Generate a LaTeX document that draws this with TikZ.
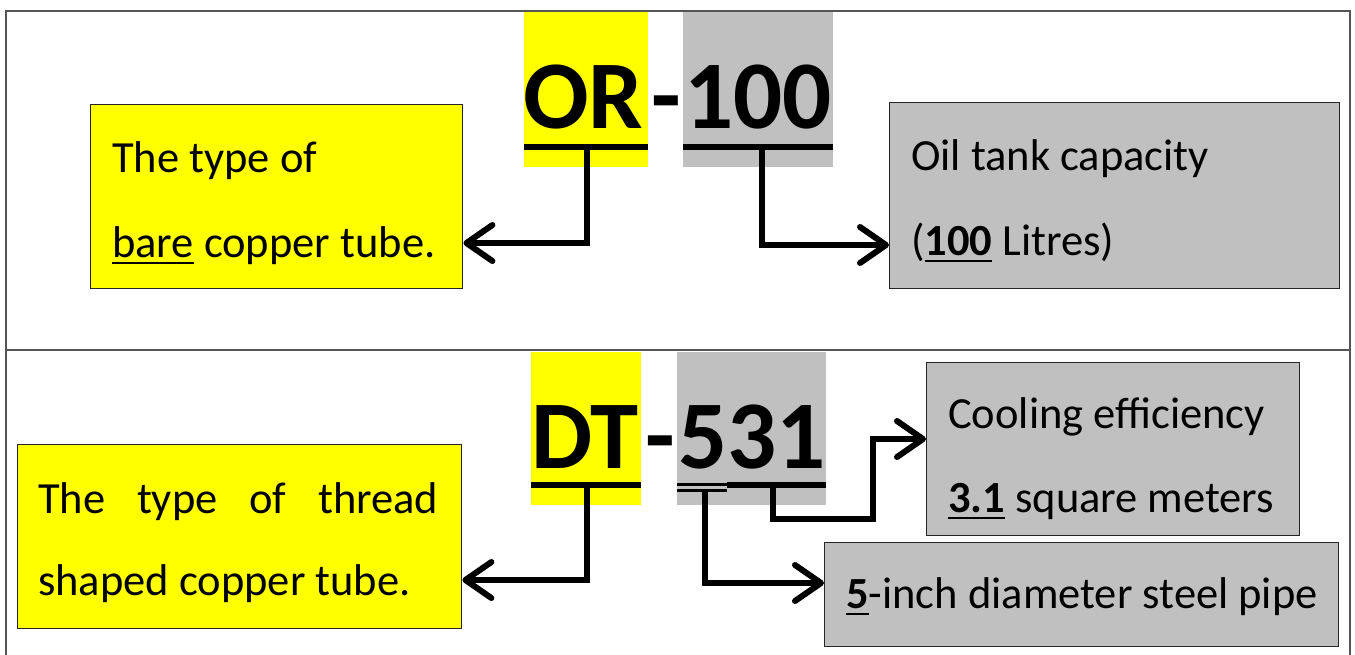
\documentclass[tikz,border=0pt]{standalone}
\usepackage{fontspec}
\setmainfont{Carlito}
\usetikzlibrary{arrows.meta}
\definecolor{hlyellow}{HTML}{FFFF00}
\definecolor{hlgray}{HTML}{C0C0C0}
\definecolor{framegray}{HTML}{555555}
\newcommand\myul[1]{\setbox0\hbox{#1}\rlap{\rule[-7pt]{\wd0}{2pt}}\box0\relax}
\tikzset{
  box/.style={draw=black!85, line width=1.4pt, inner sep=0pt, anchor=north west},
  hl/.style={inner sep=0pt, anchor=north west, draw=none},
  txt/.style={inner sep=0pt, anchor=base west, font=\fontsize{44.5}{50}\selectfont},
  big/.style={inner sep=0pt, anchor=base west, font=\fontsize{97}{100}\selectfont\bfseries},
  ulbar/.style={line width=6pt},
  ulthin/.style={line width=3pt},
  conn/.style={line width=6pt, line join=miter,
    -{Straight Barb[length=26pt,width=36pt,line cap=round,line join=round]}},
}
\begin{document}
\begin{tikzpicture}[x=1pt,y=-1pt]
\useasboundingbox (0,0) rectangle (1355,654);
% frame
\draw[framegray, line width=1.5pt] (6,670) -- (6,11) -- (1350,11) -- (1350,670);
\draw[framegray, line width=1.5pt] (6,350) -- (1350,350);

% ---------- top section ----------
\node[hl, fill=hlyellow, minimum width=124pt, minimum height=155pt] (hlOR) at (524,12) {};
\node[hl, fill=hlgray, minimum width=150pt, minimum height=155pt] (hl100) at (683,12) {};
\node[big] (tOR) at (523,128) {OR};
\node[big] (tdash1) at (651,128) {-};
\node[big] (t100) at (684,128) {100};
\draw[ulbar] (524,146.5) -- (648,146.5);
\draw[ulbar] (683,146.5) -- (833,146.5);
\coordinate (uOR) at (587,146.5);
\coordinate (u100) at (762,146.5);

\node[box, fill=hlyellow, minimum width=372pt, minimum height=184pt] (boxA) at (90,104) {};
\node[txt] (a1) at (112,172) {The type of};
\node[txt] (a2) at (112,257) {\myul{bare} copper tube.};

\node[box, fill=hlgray, minimum width=450pt, minimum height=186pt] (boxB) at (889,102) {};
\node[txt] (b1) at (911,170) {Oil tank capacity};
\node[txt] (b2) at (911,255) {(\myul{\bfseries 100} Litres)};

\draw[conn] (uOR) |- (boxA.east |- 0,243);
\draw[conn] (u100) |- (boxB.west |- 0,245);

% ---------- bottom section ----------
\node[hl, fill=hlyellow, minimum width=110pt, minimum height=153pt] (hlDT) at (531,352) {};
\node[hl, fill=hlgray, minimum width=149pt, minimum height=153pt] (hl531) at (677,352) {};
\node[big] (tDT) at (531,468) {DT};
\node[big] (tdash2) at (645,468) {-};
\node[big] (t531) at (678,468) {531};
\draw[ulbar] (531,485) -- (641,485);
\draw[ulthin] (677,484.5) -- (727,484.5);
\draw[ulthin] (677,490.5) -- (727,490.5);
\draw[ulbar] (727,485) -- (826,485);
\coordinate (uDT) at (587,485);
\coordinate (u5) at (705,490);
\coordinate (u31) at (773,485);
\coordinate (k31) at (873,519);

\node[box, fill=hlyellow, minimum width=444pt, minimum height=184pt] (boxC) at (17,444) {};
\node[txt] (c1) at (38,513) {\hbox to 400pt{The\hfill type\hfill of\hfill thread}};
\node[txt] (c2) at (38,595) {shaped copper tube.};

\node[box, fill=hlgray, minimum width=373pt, minimum height=173pt] (boxD) at (926,362) {};
\node[txt] (d1) at (948,428) {Cooling efficiency};
\node[txt] (d2) at (948,512) {\myul{\bfseries 3.1} square meters};

\node[box, fill=hlgray, minimum width=514pt, minimum height=104pt] (boxE) at (824,542) {};
\node[txt] (e1) at (846,608) {\myul{\bfseries 5}-inch diameter steel pipe};

\draw[conn] (uDT) |- (boxC.east |- 0,580);
\draw[conn] (u5) |- (boxE.west |- 0,583);
\draw[conn] (u31) |- (k31) |- (boxD.west |- 0,439);
\end{tikzpicture}
\end{document}
